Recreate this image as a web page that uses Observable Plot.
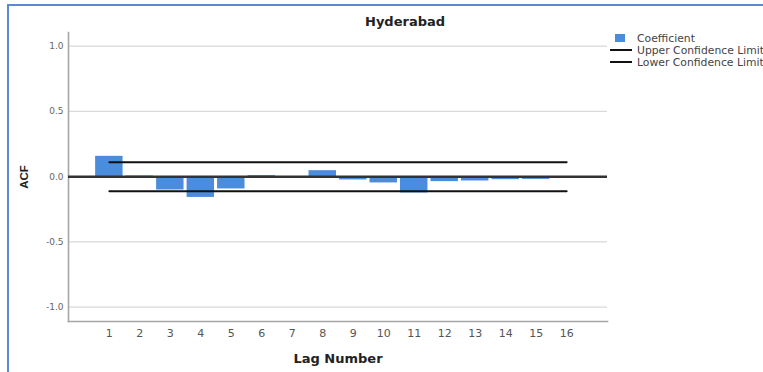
<!DOCTYPE html>
<html><head><meta charset="utf-8">
<script src="https://cdn.jsdelivr.net/npm/d3@7"></script>
<script src="https://cdn.jsdelivr.net/npm/@observablehq/plot@0.6"></script>
<style>
body{margin:0;background:#fff;font-family:"DejaVu Sans","Liberation Sans",Arial,sans-serif;}
#wrap{position:relative;width:763px;height:372px;overflow:hidden;}
#border{position:absolute;left:7px;top:4px;width:800px;height:400px;border-left:2px solid #5a8bd2;border-top:2px solid #5a8bd2;}
#chart{position:absolute;left:0;top:0;}
#title{position:absolute;left:365px;top:14px;font-weight:bold;font-size:13px;color:#222;white-space:nowrap;}
.sw{position:absolute;}
.lt{position:absolute;left:637px;font-size:10.8px;color:#444;white-space:nowrap;line-height:12px;}
[aria-label="x-axis label"] text{font-weight:bold;fill:#222;font-size:13px;}
[aria-label="y-axis label"] text{font-weight:bold;fill:#222;font-size:11.5px;font-family:"Liberation Sans",Arial,sans-serif;}
</style>
</head><body>
<div id="wrap">
  <div id="border"></div>
  <div id="chart"></div>
  <div id="title">Hyderabad</div>
  <div id="legend"></div>
</div>
<script>
const lags = [1,2,3,4,5,6,7,8,9,10,11,12,13,14,15,16];
const acf = [0.156,0.005,-0.102,-0.159,-0.094,0.008,0.0,0.046,-0.025,-0.048,-0.125,-0.038,-0.033,-0.023,-0.021,0.0];
const upper = [0.111,0.111,0.111,0.111,0.111,0.111,0.111,0.111,0.111,0.111,0.111,0.111,0.111,0.111,0.111,0.111];
const lower = [-0.112,-0.112,-0.112,-0.112,-0.112,-0.112,-0.112,-0.112,-0.112,-0.112,-0.112,-0.112,-0.112,-0.112,-0.112,-0.112];
const yTicks = [-1.0,-0.5,0.0,0.5,1.0];
const legendItems = ["Coefficient","Upper Confidence Limit","Lower Confidence Limit"];

const rows = lags.map((lag,i)=>({lag, acf:acf[i], upper:upper[i], lower:lower[i]}));

const chart = Plot.plot({
  width:763, height:372,
  marginLeft:68, marginRight:156, marginTop:32, marginBottom:51,
  style:{fontFamily:'"DejaVu Sans","Liberation Sans",Arial,sans-serif', background:"transparent"},
  x:{type:"band", domain:lags, paddingInner:0.1, paddingOuter:0.89, round:false},
  y:{domain:[-1.11,1.105]},
  marks:[
    Plot.gridY(yTicks,{stroke:"#d9d9d9", strokeOpacity:1, strokeWidth:1.2}),
    Plot.frame({anchor:"left", stroke:"#a6a6a6", strokeWidth:1.6}),
    Plot.frame({anchor:"bottom", stroke:"#a6a6a6", strokeWidth:1.6}),
    Plot.barY(rows,{x:"lag", y:"acf", fill:"#4a8ddc"}),
    Plot.ruleY([0],{stroke:"#333", strokeWidth:2.5}),
    Plot.lineY(rows,{x:"lag", y:"upper", stroke:"#111", strokeWidth:2}),
    Plot.lineY(rows,{x:"lag", y:"lower", stroke:"#111", strokeWidth:2}),
    Plot.axisY(yTicks,{tickSize:0, tickPadding:5, tickFormat:d=>d.toFixed(1), fontSize:9, fill:"#666", label:"ACF", labelAnchor:"center", labelArrow:"none", labelOffset:49}),
    Plot.axisX({tickSize:0, tickPadding:8, fontSize:11, fill:"#555", label:"Lag Number", labelAnchor:"center", labelArrow:"none", labelOffset:41})
  ]
});
document.getElementById("chart").appendChild(chart);

const leg = document.getElementById("legend");
const tops = [33,45,57];
legendItems.forEach((t,i)=>{
  const sw = document.createElement("div");
  sw.className="sw";
  if(i===0){ Object.assign(sw.style,{left:"615px",top:"34px",width:"10px",height:"8px",background:"#4a8ddc"}); }
  else { Object.assign(sw.style,{left:"610px",top:(tops[i]+4)+"px",width:"22px",height:"2px",background:"#111"}); }
  leg.appendChild(sw);
  const tx = document.createElement("div");
  tx.className="lt"; tx.style.top = tops[i]+"px"; tx.textContent = t;
  leg.appendChild(tx);
});
</script>
</body></html>
